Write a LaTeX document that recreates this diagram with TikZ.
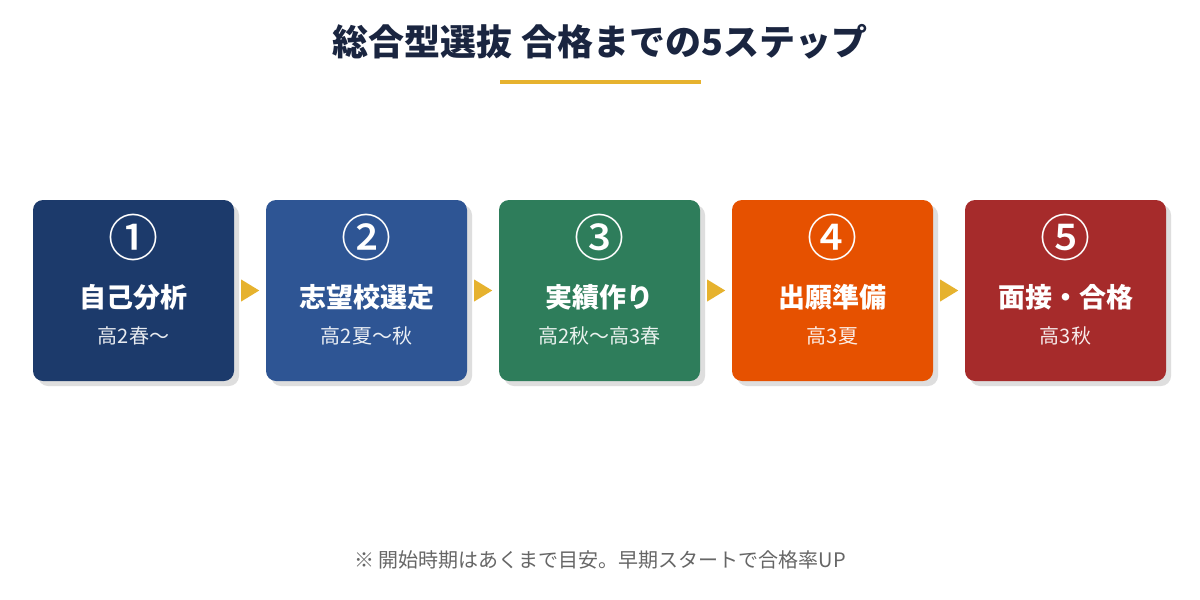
\documentclass[tikz,border=0pt]{standalone}
\usepackage{fontspec}
\setmainfont{Noto Sans CJK JP}
\newfontfamily\numfont{Noto Sans CJK JP Medium}
\usetikzlibrary{calc,positioning}
\definecolor{titlec}{HTML}{1A2540}
\definecolor{barc}{HTML}{E6B22E}
\definecolor{stepa}{HTML}{1C3A6B}
\definecolor{stepb}{HTML}{2E5594}
\definecolor{stepc}{HTML}{2E7D5B}
\definecolor{stepd}{HTML}{E65100}
\definecolor{stepe}{HTML}{A62B2B}
\definecolor{notec}{HTML}{666666}
\tikzset{
  stepbox/.style={minimum width=201pt,minimum height=181pt,rounded corners=10pt,
    inner sep=0pt,draw=none},
  stepshadow/.style={fill=black!13,rounded corners=10pt},
  stepnum/.style={text=white,font=\numfont\fontsize{50}{50}\selectfont},
  steptitle/.style={text=white,font=\bfseries\fontsize{27}{31}\selectfont},
  stepsub/.style={text=white,text opacity=0.9,font=\fontsize{20}{24}\selectfont},
  steparrow/.style={fill=barc},
}
\begin{document}
\begin{tikzpicture}[x=1pt,y=-1pt]
\useasboundingbox[fill=white] (0,0) rectangle (1200,600);

% Title
\node[text=titlec,font=\bfseries\fontsize{36}{42}\selectfont] (title) at (600,42) {総合型選抜 合格までの5ステップ};
\fill[barc] (500,80) rectangle (701,84);

% Shadows
\fill[stepshadow] (38,205) rectangle (239,386);
\fill[stepshadow] (271,205) rectangle (472,386);
\fill[stepshadow] (504,205) rectangle (705,386);
\fill[stepshadow] (737,205) rectangle (938,386);
\fill[stepshadow] (970,205) rectangle (1171,386);

% Boxes
\node[stepbox,fill=stepa] (s1) at (133.5,290.5) {};
\node[stepbox,fill=stepb] (s2) at (366.5,290.5) {};
\node[stepbox,fill=stepc] (s3) at (599.5,290.5) {};
\node[stepbox,fill=stepd] (s4) at (832.5,290.5) {};
\node[stepbox,fill=stepe] (s5) at (1065.5,290.5) {};

% Numbers
\node[stepnum] (n1) at (133.5,237) {①};
\node[stepnum] (n2) at (366.5,237) {②};
\node[stepnum] (n3) at (599.5,237) {③};
\node[stepnum] (n4) at (832.5,237) {④};
\node[stepnum] (n5) at (1065.5,237) {⑤};

% Step names
\node[steptitle] (t1) at (133.5,297) {自己分析};
\node[steptitle] (t2) at (366.5,297) {志望校選定};
\node[steptitle] (t3) at (599.5,297) {実績作り};
\node[steptitle] (t4) at (832.5,297) {出願準備};
\node[steptitle] (t5) at (1065.5,297) {面接・合格};

% Periods
\node[stepsub] (p1) at (133.5,336) {高2春〜};
\node[stepsub] (p2) at (366.5,336) {高2夏〜秋};
\node[stepsub] (p3) at (599.5,336) {高2秋〜高3春};
\node[stepsub] (p4) at (832.5,336) {高3夏};
\node[stepsub] (p5) at (1065.5,336) {高3秋};

% Arrows
\fill[steparrow] ($(s1.east)+(7,-11)$) -- ($(s1.east)+(25,0)$) -- ($(s1.east)+(7,11)$) -- cycle;
\fill[steparrow] ($(s2.east)+(7,-11)$) -- ($(s2.east)+(25,0)$) -- ($(s2.east)+(7,11)$) -- cycle;
\fill[steparrow] ($(s3.east)+(7,-11)$) -- ($(s3.east)+(25,0)$) -- ($(s3.east)+(7,11)$) -- cycle;
\fill[steparrow] ($(s4.east)+(7,-11)$) -- ($(s4.east)+(25,0)$) -- ($(s4.east)+(7,11)$) -- cycle;

% Note
\node[text=notec,font=\fontsize{20}{24}\selectfont] (note) at (600,560) {※ 開始時期はあくまで目安。早期スタートで合格率UP};
\end{tikzpicture}
\end{document}
